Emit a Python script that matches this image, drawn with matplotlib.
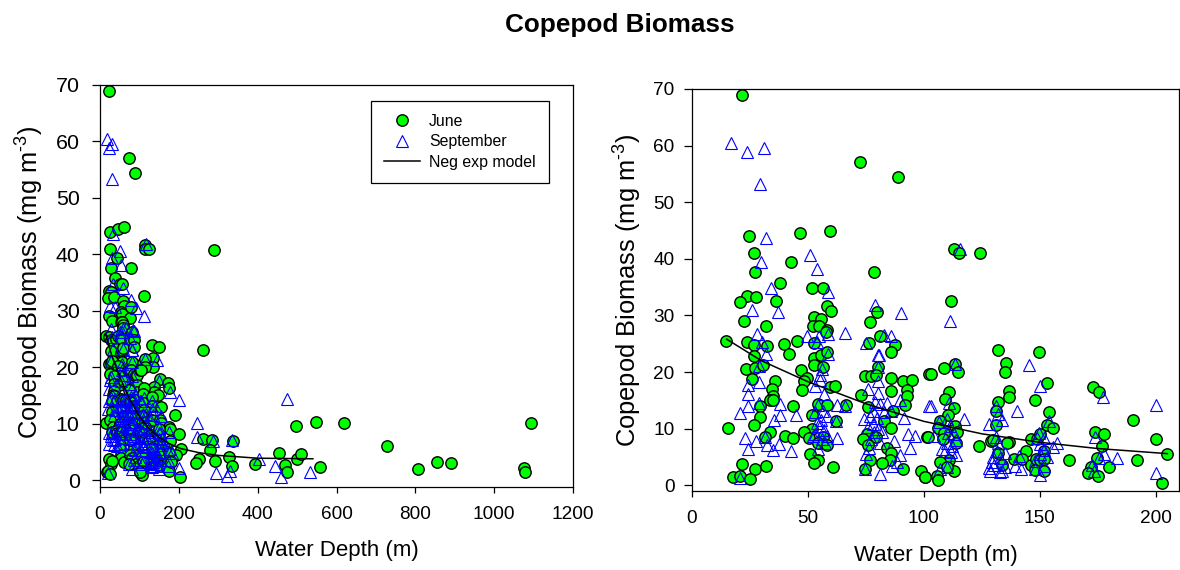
import matplotlib
matplotlib.use("Agg")
import matplotlib.pyplot as plt

plt.rcParams['font.family'] = ['Liberation Sans', 'DejaVu Sans']
plt.rcParams['mathtext.fontset'] = 'custom'
plt.rcParams['mathtext.rm'] = 'Liberation Sans'
plt.rcParams['mathtext.default'] = 'regular'

june_shallow = [
(21.7,68.9),(72.6,57.1),(88.8,54.4),(24.6,44.0),(46.7,44.5),(59.7,44.9),(26.6,41.0),(42.7,39.4),(27.2,37.6),(78.4,37.6),
(38.1,35.8),(51.7,34.8),(56.7,34.8),(23.7,33.5),(27.8,33.3),(20.6,32.3),(36.3,32.5),(58.1,31.7),(60.1,30.8),(52.7,29.8),
(55.7,29.4),(22.6,29.1),(31.7,28.2),(76.7,28.8),(79.7,30.7),(52.1,28.1),(54.7,28.1),(58.3,27.5),(57.8,27),(14.7,25.5),
(23.7,25.4),(26.8,24.8),(32.5,24.6),(39.7,25),(45.3,25.5),(52.7,25.1),(41.7,23.2),(26.8,22.8),(52.7,22.5),(55.7,23.1),
(58.3,23.5),(52.7,21.2),(56.4,20.9),(76.5,25.1),(80.9,26.3),(87.5,24.8),(85.6,23.6),(80.3,20.9),(23.5,20.5),(27.2,20.7),
(30.8,21.2),(46.8,20.3),(49.5,19),(48.3,18.4),(25.8,18.8),(35.7,18.4),(34.7,17.1),(47.3,16.9),(59.7,17.4),(61.7,17.5),
(74.7,19.3),(77.1,19.3),(79.4,19.5),(85.6,18.9),(91.2,18.5),(94.8,18.6),(102.4,19.6),(85.6,16.6),(92.7,16.9),(92.8,15.7),
(72.7,16),(91.8,14.2),(34.8,15.8),(33.7,15.1),(35.1,15),(29.4,14.1),(43.7,14.1),(54.5,14.3),(58.4,14.2),(66.3,14.2),
(51.6,12.5),(29.4,12),(75.7,13.9),(86.5,13.2),(61.9,11.3),(15.7,10.1),(26.6,10.6),(33.7,9.5),(51.6,10),(48.3,9.4),
(31.5,8.5),(39.9,8.8),(43.7,8.4),(50.6,8.4),(56.7,8.6),(54.2,7.5),(58.1,7.1),(75.4,9),(73.7,8.2),(79.4,8.6),
(82.9,11.3),(85.7,10.1),(101.4,8.6),(84,6.6),(85.7,5.7),(85.5,4.5),(50.8,5.6),(54.5,4.4),(52.8,4),(60.7,3.2),
(76.7,4.5),(82,4),(91.2,2.9),(98.7,2.5),(100.4,1.5),(21.6,3.8),(27.2,2.8),(31.7,3.4),(17.8,1.5),(20.7,1.6),
(25.2,1.1),(74.8,2.8),(76.1,7.1),(111.8,32.6),(131.8,23.9),(149.8,23.6),(135.2,21.6),(134.8,20.1),(108.8,20.8),(113.2,21.5),
(114.9,20.1),(102.9,19.6),(152.9,18),(136.9,16.6),(136.9,15.6),(148,15.1),(172.9,17.3),(175.7,16.4),(110.9,16.4),(109.2,15.3),
(112.8,13.6),(131.8,14.7),(131.2,13.2),(153.8,13),(110.6,12.5),(107,11.3),(105.9,10.1),(113.5,10.4),(131.2,10.7),(153.1,10.7),
(155.8,10.1),(190,11.5),(108.5,9.2),(114.2,9.4),(101.9,8.6),(108.2,8.2),(113.8,7.5),(173.9,9.5),(177.8,9),(200,8.2),
(176.8,7),(128.9,7.9),(130,8),(136.5,7.6),(135.8,7.4),(123.7,7),(146.2,8.2),(148.8,8.1),(149.9,9),(151.9,6),
(204.9,5.5),(191.9,4.4),(162.7,4.5),(143.9,6),(138.7,4.6),(142.3,4.7),(146.2,3.6),(148.3,4.7),(149.9,4.5),(151.9,4.6),
(148,2.7),(151.8,2.5),(133.6,3.6),(131.8,5.7),(111,4.5),(107,4.1),(113.1,2.6),(109.9,3.3),(105.6,1.6),(105.9,0.9),
(100.3,1.5),(174.7,4.8),(172.1,3.2),(170.9,2.1),(174.9,1.6),(179.8,3.3),(202.8,0.5),(113,41.7),(115,41),(124,41),
]
june_deep = [
(262,23.1),(288.5,40.8),(262,7.3),(283,7.1),(338,7),(279,5.3),(250,3.8),(244,3.1),(291,3.4),(327,4.2),
(335,2.6),(394,2.9),(455,4.9),(470,2.7),(474,1.5),(501,3.8),(511,4.7),(558,2.4),(497,9.6),(548,10.4),
(619,10.1),(728,6.1),(807,1.9),(855,3.3),(891,3),(1076,2.2),(1079,1.4),(1094,10.2),
]
sept_shallow = [
(17,60.4),(23.9,58.8),(30.9,59.6),(29.2,53.3),(31.9,43.6),(50.9,40.6),(29.9,39.4),(53.9,38.2),(34,34.8),(58.8,34.1),
(26,30.9),(37,30.6),(78.8,31.9),(90.1,30.5),(27.9,26.7),(30.1,25.4),(49.8,26.3),(54.9,26.3),(58.8,26.8),(65.9,26.9),
(53.8,25.4),(75,25.2),(82.9,26.6),(85.7,26.4),(31.9,23.2),(58.8,23.2),(80.1,23),(80.6,23),(29.1,21.1),(56.2,20.5),
(80,20.9),(55,19.5),(55,18.6),(53,17.6),(24.2,17.7),(29.1,18.2),(24,16.2),(80.4,18.5),(75.7,17.1),(57,16.2),
(80.1,16.3),(24,14.1),(20.9,12.7),(29.1,14.6),(38,14.4),(38,12.5),(35.5,11.5),(45,12.4),(54.5,14.2),(62.7,14.2),
(66,14.1),(56.7,13.1),(58.1,12.2),(55.7,11.6),(62.1,11.3),(89.8,15.1),(84,14.5),(79,14.8),(81.1,14.4),(76.8,12.2),
(79.7,11.9),(74,11.7),(85.8,13.2),(91.5,11.9),(102.4,14),(78.3,9.5),(93,9.1),(96.1,8.8),(86.9,7.9),(94.1,6.6),
(89.8,5.4),(88.3,4.2),(86.2,3.5),(81.1,2),(74.8,2.8),(76.5,6.6),(23,8.4),(27.6,7.8),(24,6.5),(32.5,7.2),
(37.3,7.3),(35.1,6.3),(42.9,6),(31.5,8.6),(53.1,9),(58.1,8.8),(62.4,8.3),(57.4,7.5),(54.5,6.4),(20.7,1.3),
(111.1,29),(113.2,21.4),(145.2,21.3),(150.2,17.6),(177.1,15.6),(200.1,14.2),(103,14.1),(111,14.6),(131.2,14),(131.8,12.6),
(140.1,13.1),(117.1,11.7),(133.6,11.5),(127.9,10.9),(109.9,11.8),(106.7,11.2),(153.8,11.3),(111.4,10.4),(104.2,8.8),(110.6,9.2),
(112.8,9.1),(173.9,8.5),(151.6,8.4),(149.5,9.2),(148.8,8.4),(157.4,7.4),(155.7,6.7),(151.9,6.2),(131.5,6),(135.1,5.7),
(109.2,6),(111.6,5.8),(113.9,5.3),(177.5,5.5),(183.1,4.8),(175.4,4.8),(140.8,5.1),(139.4,3.5),(142,2.9),(130.3,3.6),
(127.9,3.1),(129.3,4.2),(133.6,2.5),(132.9,2.4),(148,2.8),(149.9,1.9),(107,2.9),(109.9,3.2),(172.5,3.6),(173.2,2.5),
(200.1,2.1),(115.5,41.8),
(55,10.5),(57,9.8),(54,11),(53,13),(56,8.2),(52,8.8),(78,10.8),(80,10),(82,9.5),(76,10.3),
(78,13.2),(83,13),(77,8.2),(81,7.5),(75,5.5),(110,7.5),(112,7),(108,6.5),(114,8),(131,8.5),
(132,7.5),(133,4.8),(130,5),(128.5,2.6),(135,3.2),(150,5.5),(152,3.5),(148,4.3),(150,7.3),(153,5),
]
sept_deep = [
(475,14.4),(245,10.1),(245,7.6),(286,7),(335,7.2),(404,3.8),(444,2.6),(294,1.2),(321,0.7),(331,1.6),
(458,0.6),(534,1.5),
]
model_depth = [15, 30, 50, 75, 100, 125, 150, 175, 205, 250, 300, 400, 540]
model_biomass = [25.8, 22.0, 18.3, 14.4, 11.3, 9.1, 7.6, 6.5, 5.6, 4.9, 4.4, 3.9, 3.8]

left_xticks = [0, 200, 400, 600, 800, 1000, 1200]
right_xticks = [0, 50, 100, 150, 200]
yticks = [0, 10, 20, 30, 40, 50, 60, 70]
xlabel = 'Water Depth (m)'
ylabel = 'Copepod Biomass (mg m$^{\\text{-3}}$)'
title = 'Copepod Biomass'

W, H = 1180, 570
fig = plt.figure(figsize=(W/100, H/100), dpi=100, facecolor='white')


def make_axes(x0, x1, ytop, ybot):
    return fig.add_axes([x0/W, 1-ybot/H, (x1-x0)/W, (ybot-ytop)/H])


def draw(ax, june, sept):
    ax.plot([p[0] for p in june], [p[1] for p in june], ls='none', marker='o', ms=8.2,
            mfc='#00ff00', mec='black', mew=1.0, label='June', clip_on=False, zorder=2)
    ax.plot([p[0] for p in sept], [p[1] for p in sept], ls='none', marker='^', ms=8.8,
            mfc='none', mec='#0000ff', mew=0.8, label='September', clip_on=False, zorder=3)


axL = make_axes(100, 573, 85, 487)
draw(axL, june_shallow + june_deep, sept_shallow + sept_deep)
axL.plot(model_depth, model_biomass, color='black', lw=1.1, label='Neg exp model', zorder=4)
axL.set_xlim(0, 1200)
axL.set_ylim(-1.2, 70)
axL.set_xticks(left_xticks)
axL.set_yticks(yticks)
axL.tick_params(axis='x', labelsize=13.7, length=4, width=0.9, pad=10)
axL.tick_params(axis='y', labelsize=15.4, length=6, width=0.9, pad=8.6)
axL.set_xlabel(xlabel, fontsize=16, labelpad=12.2)
axL.set_ylabel(ylabel, fontsize=18.4, labelpad=7, y=0.51)
leg = axL.legend(loc='upper left', bbox_to_anchor=((371-100)/473, (487-101)/402), fontsize=11.4,
                 frameon=True, fancybox=False, edgecolor='black', framealpha=1,
                 borderaxespad=0, borderpad=0.82, labelspacing=0.34, handlelength=2.27,
                 handletextpad=0.57)
leg.get_frame().set_linewidth(0.9)

axR = make_axes(692, 1179, 89, 491)
draw(axR, june_shallow, sept_shallow)
axR.plot([d for d in model_depth if d <= 205], [b for d, b in zip(model_depth, model_biomass) if d <= 205],
         color='black', lw=1.1, zorder=4)
axR.set_xlim(0, 210)
axR.set_ylim(-1, 70)
axR.set_xticks(right_xticks)
axR.set_yticks(yticks)
axR.tick_params(axis='x', labelsize=13.7, length=4, width=0.9, pad=10)
axR.tick_params(axis='y', labelsize=13.7, length=6, width=0.9, pad=6.5)
axR.set_xlabel(xlabel, fontsize=16, labelpad=12.3)
axR.set_ylabel(ylabel, fontsize=18.4, labelpad=7)

for ax in (axL, axR):
    for s in ax.spines.values():
        s.set_linewidth(0.9)

fig.text(620/W, 1-25/H, title, ha='center', va='center', fontsize=18.8, fontweight='bold')
fig.savefig('out.png', dpi=100)
